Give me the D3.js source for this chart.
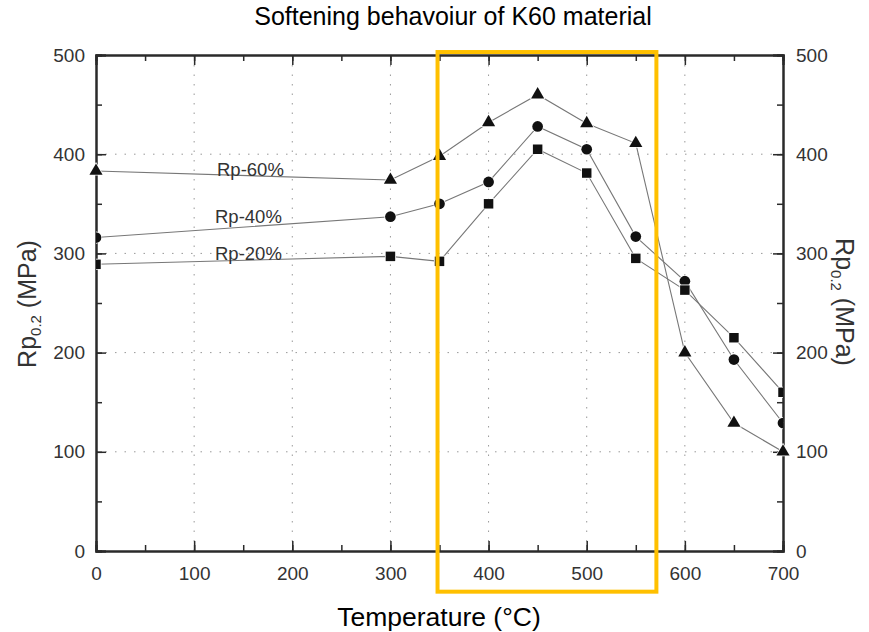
<!DOCTYPE html>
<html><head><meta charset="utf-8">
<script src="https://cdn.jsdelivr.net/npm/d3@7"></script>
<style>body{margin:0;background:#fff}svg{display:block}</style>
</head><body>
<svg id="c" width="869" height="632"></svg>
<script>
const temps = [0, 300, 350, 400, 450, 500, 550, 600, 650, 700];
const rp60 = [383, 374, 398, 432, 460, 431, 411, 200, 129, 100];
const rp40 = [316, 337, 350, 372, 428, 405, 317, 272, 193, 129];
const rp20 = [289, 297, 292, 350, 405, 381, 295, 263, 215, 160];
const seriesNames = ["Rp-60%", "Rp-40%", "Rp-20%"];
const labelPos = [[217, 378], [215, 331], [215, 293]];
const xTicks = [0, 100, 200, 300, 400, 500, 600, 700];
const yTicks = [0, 100, 200, 300, 400, 500];
const highlightX = [348, 571];
const highlightY = [-41, 503];

const svg = d3.select("#c");
const W = 869, H = 632;
const m = {l: 96, r: 869 - 783, t: 55, b: 632 - 551};
const x = d3.scaleLinear().domain([0, 700]).range([m.l, W - m.r]);
const y = d3.scaleLinear().domain([0, 500]).range([H - m.b, m.t]);
const font = "Liberation Sans, Arial, sans-serif";
const ink = "#2a2a2a";

svg.append("clipPath").attr("id", "pc").append("rect")
  .attr("x", x(0)).attr("y", y(500)).attr("width", x(700) - x(0)).attr("height", y(0) - y(500));

// grid
const g = svg.append("g");
g.selectAll(".gx").data(xTicks.filter(d => d > 0 && d < 700)).enter().append("line")
  .attr("x1", d => x(d)).attr("x2", d => x(d)).attr("y1", y(0)).attr("y2", y(500))
  .attr("stroke", "#999").attr("stroke-width", 1).attr("stroke-dasharray", "1.5,8");
g.selectAll(".gy").data(yTicks.filter(d => d > 0 && d < 500)).enter().append("line")
  .attr("x1", x(0)).attr("x2", x(700)).attr("y1", d => y(d)).attr("y2", d => y(d))
  .attr("stroke", "#999").attr("stroke-width", 1).attr("stroke-dasharray", "1.5,8");

// axes with inward ticks
const minorX = d3.range(0, 701, 50), minorY = d3.range(0, 501, 50);
function axisG(axis, tr) { return svg.append("g").attr("transform", tr).call(axis); }
const bottomMinor = d3.axisBottom(x).tickValues(minorX).tickSize(-6).tickFormat("");
const bottomMajor = d3.axisBottom(x).tickValues(xTicks).tickSize(-10).tickPadding(16).tickFormat(d3.format("d"));
const topMinor = d3.axisTop(x).tickValues(minorX).tickSize(-6).tickFormat("");
const topMajor = d3.axisTop(x).tickValues(xTicks).tickSize(-10).tickFormat("");
const leftMinor = d3.axisLeft(y).tickValues(minorY).tickSize(-6).tickFormat("");
const leftMajor = d3.axisLeft(y).tickValues(yTicks).tickSize(-10).tickPadding(11).tickFormat(d3.format("d"));
const rightMinor = d3.axisRight(y).tickValues(minorY).tickSize(-6).tickFormat("");
const rightMajor = d3.axisRight(y).tickValues(yTicks).tickSize(-10).tickPadding(13).tickFormat(d3.format("d"));
const axes = [
  axisG(bottomMinor, `translate(0,${y(0)})`), axisG(bottomMajor, `translate(0,${y(0)})`),
  axisG(topMinor, `translate(0,${y(500)})`), axisG(topMajor, `translate(0,${y(500)})`),
  axisG(leftMinor, `translate(${x(0)},0)`), axisG(leftMajor, `translate(${x(0)},0)`),
  axisG(rightMinor, `translate(${x(700)},0)`), axisG(rightMajor, `translate(${x(700)},0)`)
];
axes.forEach(a => {
  a.select(".domain").attr("stroke", ink).attr("stroke-width", 2);
  a.selectAll(".tick line").attr("stroke", ink).attr("stroke-width", 1.5);
  a.selectAll(".tick text").attr("font-family", font).attr("font-size", 19).attr("fill", "#333");
});

// series
const series = [
  {name: seriesNames[0], vals: rp60, shape: d3.symbolTriangle, size: 75, clip: false},
  {name: seriesNames[1], vals: rp40, shape: d3.symbolCircle, size: 90, clip: true},
  {name: seriesNames[2], vals: rp20, shape: d3.symbolSquare, size: 90, clip: true}
];
const line = d3.line().x(d => x(d[0])).y(d => y(d[1]));
series.forEach((s, i) => {
  const pts = temps.map((t, j) => [t, s.vals[j]]);
  svg.append("path").attr("d", line(pts)).attr("fill", "none")
    .attr("stroke", "#777").attr("stroke-width", 1.1);
});
series.forEach((s, i) => {
  const pts = temps.map((t, j) => [t, s.vals[j]]);
  const mg = svg.append("g");
  if (s.clip) mg.attr("clip-path", "url(#pc)");
  mg.selectAll("path").data(pts).enter().append("path")
    .attr("d", d3.symbol().type(s.shape).size(s.size))
    .attr("transform", d => `translate(${x(d[0])},${y(d[1])})`)
    .attr("fill", "#111").attr("stroke", "#fff").attr("stroke-width", 1.5)
    .attr("paint-order", "stroke");
  svg.append("text").attr("x", labelPos[i][0]).attr("y", y(labelPos[i][1]))
    .attr("font-family", font).attr("font-size", 18.5).attr("fill", "#333").text(s.name);
});

// highlight rectangle
svg.append("rect")
  .attr("x", x(highlightX[0])).attr("y", y(highlightY[1]))
  .attr("width", x(highlightX[1]) - x(highlightX[0]))
  .attr("height", y(highlightY[0]) - y(highlightY[1]))
  .attr("fill", "none").attr("stroke", "#FFC000").attr("stroke-width", 4);

// title & labels
svg.append("text").attr("x", 453).attr("y", 25).attr("text-anchor", "middle")
  .attr("font-family", font).attr("font-size", 25).attr("fill", "#000")
  .text("Softening behavoiur of K60 material");
svg.append("text").attr("x", 439).attr("y", 626).attr("text-anchor", "middle")
  .attr("font-family", font).attr("font-size", 26.5).attr("fill", "#000")
  .text("Temperature (°C)");

function yLabel(tx, ty, rot) {
  const t = svg.append("text").attr("transform", `translate(${tx},${ty}) rotate(${rot})`)
    .attr("text-anchor", "middle").attr("font-family", font).attr("font-size", 25).attr("fill", "#333");
  t.append("tspan").text("Rp");
  t.append("tspan").attr("font-size", 15).attr("dy", 5).text("0.2");
  t.append("tspan").attr("dy", -5).text(" (MPa)");
}
yLabel(36, 304, -90);
yLabel(836, 302, 90);
</script>
</body></html>
